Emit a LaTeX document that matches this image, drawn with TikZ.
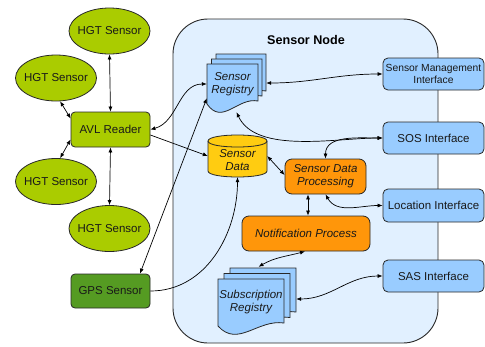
\documentclass[tikz,border=0pt]{standalone}
\usepackage{fontspec}
\setmainfont{Liberation Sans}
\usetikzlibrary{arrows.meta,shapes.geometric,calc}

\definecolor{hgtgreen}{RGB}{170,204,0}
\definecolor{gpsgreen}{RGB}{85,155,34}
\definecolor{nodebg}{RGB}{225,240,255}
\definecolor{ifblue}{RGB}{153,204,255}
\definecolor{datayellow}{RGB}{255,204,17}
\definecolor{procorange}{RGB}{255,150,10}
\definecolor{outline}{RGB}{40,40,40}

% one sheet of a document stack: left, right, top, bottom (pixel units, y downwards)
\newcommand\docsheet[4]{%
  \filldraw[sheet] (#1,-#3) -- (#2,-#3) -- (#2,{-(#4-3)})
    .. controls ({#1+0.6*(#2-#1)},{-(#4-7)}) and ({#1+0.3*(#2-#1)},{-(#4+22)}) .. (#1,-#4) -- cycle;}

\tikzset{
  txt/.style={font=\fontsize{11.5}{13}\selectfont, text=black!90},
  sensor/.style={ellipse, draw=outline, line width=0.8pt, fill=hgtgreen,
    minimum width=81pt, minimum height=46pt, inner sep=0pt, txt},
  device/.style={rectangle, rounded corners=4pt, draw=outline, line width=0.8pt,
    minimum width=79pt, minimum height=35pt, inner sep=1pt, txt},
  iface/.style={rectangle, rounded corners=5pt, draw=outline, line width=0.8pt, fill=ifblue,
    minimum width=101pt, minimum height=32pt, inner sep=1pt, txt, align=center},
  proc/.style={rectangle, draw=outline, line width=0.8pt, fill=procorange,
    inner sep=1pt, txt, align=center, font=\fontsize{11.5}{13}\selectfont\itshape},
  sheet/.style={draw=outline, line width=0.8pt, fill=ifblue},
  area/.style={txt, align=center, inner sep=1pt, font=\fontsize{11.5}{13}\selectfont\itshape},
  link/.style={draw=black, line width=0.7pt, {Latex[length=5pt,width=4pt]}-{Latex[length=5pt,width=4pt]}},
  fwd/.style={draw=black, line width=0.7pt, -{Latex[length=5pt,width=4pt]}},
}

\begin{document}
\begin{tikzpicture}[x=1pt,y=1pt]
\useasboundingbox (0,0) rectangle (485,-346);

% sensor node container
\node (snode) [rectangle, rounded corners=35pt, draw=outline, line width=0.9pt, fill=nodebg,
  minimum width=265pt, minimum height=324pt] at (305.5,-181) {};
\node (title) [font=\fontsize{12.6}{15}\selectfont\bfseries] at (306,-40) {Sensor Node};

% external sensors
\node (hgt1) [sensor] at (109.5,-31)  {\makebox[0pt]{HGT Sensor}};
\node (hgt2) [sensor] at (56,-78)     {\makebox[0pt]{HGT Sensor}};
\node (hgt3) [sensor] at (56,-181.5)  {\makebox[0pt]{HGT Sensor}};
\node (hgt4) [sensor] at (109.5,-228.5) {\makebox[0pt]{HGT Sensor}};
\node (avl)  [device, fill=hgtgreen] at (110.5,-129.5) {AVL Reader};
\node (gps)  [device, fill=gpsgreen, minimum height=34pt] at (110.5,-291) {GPS Sensor};

% sensor registry (stack of documents)
\docsheet{216}{266}{54}{94}
\docsheet{211.5}{262}{59}{99}
\docsheet{207}{258}{64}{104}
\node (sreg) [area, minimum width=51pt, minimum height=40pt] at (232.5,-84) {Sensor\\Registry};

% subscription registry (stack of documents)
\docsheet{230}{296}{268}{315}
\docsheet{224}{290}{273.5}{320.5}
\docsheet{218}{284}{279}{326}
\node (subreg) [area, minimum width=66pt, minimum height=47pt] at (251,-302.5) {Subscription\\Registry};

% sensor data store (cylinder)
\filldraw[draw=outline, line width=0.8pt, fill=datayellow]
  (208,-141) -- (208,-171) .. controls (208,-179) and (267,-179) .. (267,-171)
  -- (267,-141) .. controls (267,-133) and (208,-133) .. (208,-141) -- cycle;
\draw[outline, line width=0.8pt] (208,-141) .. controls (208,-149) and (267,-149) .. (267,-141);
\node (sdata) [minimum width=59pt, minimum height=42pt, inner sep=0pt] at (237.5,-156) {};
\node (sdatatxt) [area] at (237.5,-160) {Sensor\\Data};

% processing
\node (sdp) [proc, rounded corners=7pt, minimum width=81pt, minimum height=35pt]
  at (325.5,-176.5) {Sensor Data\\Processing};
\node (notif) [proc, rounded corners=7pt, minimum width=128pt, minimum height=35pt]
  at (306,-233.5) {Notification Process};

% interfaces
\node (smi) [iface, font=\fontsize{10.3}{12}\selectfont] at (433.5,-74) {Sensor Management\\Interface};
\node (sos) [iface] at (433.5,-138) {SOS Interface};
\node (loc) [iface, minimum height=33pt] at (433.5,-205.5) {Location Interface};
\node (sas) [iface] at (433.5,-276) {SAS Interface};

% connectors
\draw[link] (hgt1.south) -- (avl.north);
\draw[link] (hgt2.-80) -- ($(avl.west)+(0,11)$);
\draw[link] (hgt3.80) -- ($(avl.west)+(0,-10)$);
\draw[link] (avl.south) -- (hgt4.north);
\draw[link] (avl.east) to[out=15,in=180] (sreg.west);
\draw[fwd]  ($(avl.east)+(0,-5.5)$) -- (sdata.west);
\draw[link] ($(gps.north)+(29.5,0)$) -- ($(sreg.south west)+(0,6)$);
\draw[fwd]  (gps.east) to[out=0,in=-90] (sdata.south);
\draw[link] ($(sreg.east)+(8,1)$) to[out=0,in=180] (smi.west);
\draw[link] ($(sreg.south)+(4,-8)$) to[out=-65,in=180,looseness=0.8] (sos.west);
\draw[link] (sdp.north) to[out=90,in=180] (sos.west);
\draw[link] (sdata.east) -- ($(sdp.west)+(0,1.5)$);
\draw[link] (sdp.south) to[out=-60,in=180] (loc.west);
\draw[link] ($(sdp.south)+(-17.5,0)$) -- ($(notif.north)+(2,0)$);
\draw[link] ($(notif.south)+(-1,0)$) to[out=195,in=30] ($(subreg.north)+(7.5,12)$);
\draw[link] ($(subreg.east)+(12,3.5)$) to[out=0,in=180] (sas.west);
\end{tikzpicture}
\end{document}
